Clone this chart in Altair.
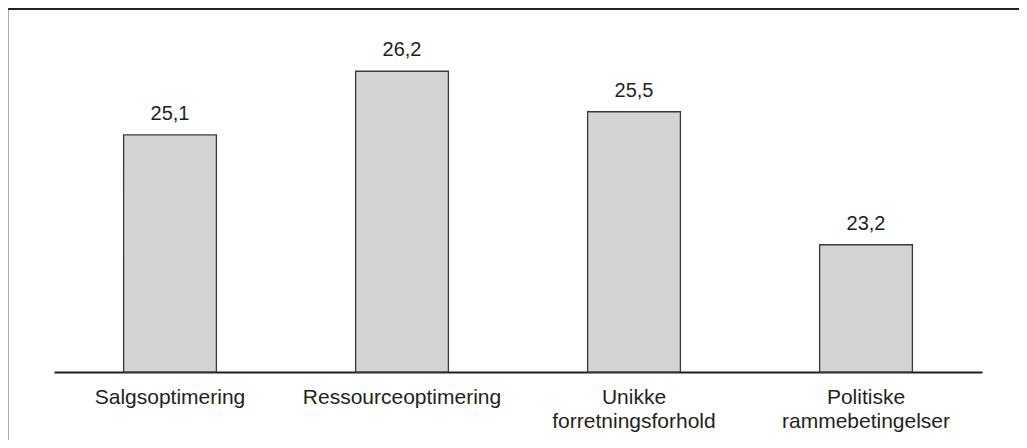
import altair as alt
import pandas as pd

categories = ["Salgsoptimering", "Ressourceoptimering", "Unikke forretningsforhold", "Politiske rammebetingelser"]
values = [25.1, 26.2, 25.5, 23.2]

df = pd.DataFrame({"kategori": categories, "vaerdi": values})

y_min, y_max = 21, 27
text_color = "#231f20"

base = alt.Chart(df)

x_enc = alt.X(
    "kategori:N",
    sort=categories,
    scale=alt.Scale(paddingInner=0.6, paddingOuter=0.3),
    axis=alt.Axis(
        title=None,
        labelAngle=0,
        ticks=False,
        domain=True,
        domainColor="#231f20",
        domainWidth=2,
        labelFont="Liberation Sans",
        labelFontSize=21,
        labelColor=text_color,
        labelPadding=14,
        labelLineHeight=24,
        labelLimit=0,
        labelExpr="split(datum.label, ' ')",
    ),
)
y_enc = alt.Y("vaerdi:Q", scale=alt.Scale(domain=[y_min, y_max], zero=False, nice=False), axis=None)

bars = base.mark_bar(fill="#d3d4d5", stroke="#3a3a3a", strokeWidth=1.3).encode(
    x=x_enc, y=y_enc, y2=alt.datum(y_min)
)

labels = base.transform_calculate(
    lbl="replace(format(datum.vaerdi, '.1f'), '.', ',')"
).mark_text(
    baseline="alphabetic", dy=-15, font="Liberation Sans", fontSize=20, color=text_color
).encode(x=x_enc, y=y_enc, text="lbl:N")

frame_data = alt.Data(values=[{}])
top_line = alt.Chart(frame_data).mark_rule(stroke="#222222", strokeWidth=2).encode(
    x=alt.value(-47), x2=alt.value(980), y=alt.value(-16)
)
left_line = alt.Chart(frame_data).mark_rule(stroke="#555555", strokeWidth=2).encode(
    x=alt.value(-46.5), y=alt.value(-17), y2=alt.value(430)
)

chart = alt.layer(top_line, left_line, bars, labels).properties(
    width=928,
    height=347,
    autosize=alt.AutoSizeParams(type="none"),
    padding={"left": 46, "top": 17, "right": 37, "bottom": 68},
    background="white",
).configure_view(stroke=None)

chart.save("out.html", embed_options={"renderer": "svg", "actions": False})
